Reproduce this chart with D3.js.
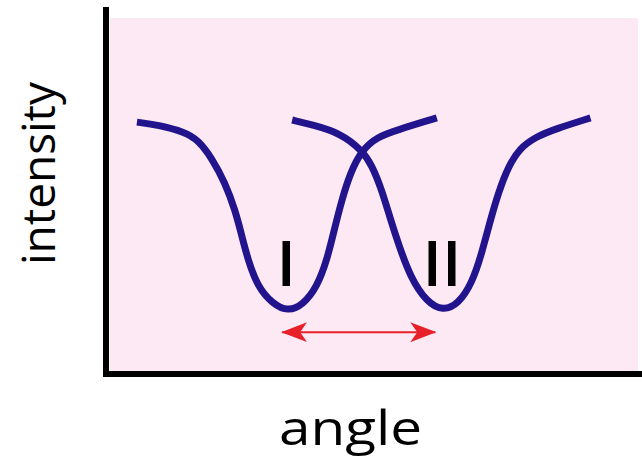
<!DOCTYPE html>
<html lang="en">
<head>
  <meta charset="UTF-8">
  <title>Two dips: intensity vs angle</title>
  <script src="https://d3js.org/d3.v7.min.js"></script>
  <style>
    body { margin: 0; background: #fff; }
    text { font-family: "Open Sans", "DejaVu Sans", sans-serif; }
  </style>
</head>
<body>
<div id="chart"></div>
<script>

// readings (angle in arbitrary units 0..100, intensity 0..1)
const angleI     = [5.1, 9.1, 14.2, 16.7, 19.3, 21.8, 23.7, 25.0, 26.1, 28.0, 30.7, 33.7, 36.6, 39.2, 41.1, 42.6, 43.9, 45.5, 47.7, 50.6, 54.4, 61.9];
const intensityI = [0.705, 0.697, 0.677, 0.654, 0.603, 0.533, 0.456, 0.381, 0.316, 0.238, 0.192, 0.168, 0.188, 0.238, 0.314, 0.408, 0.484, 0.561, 0.626, 0.663, 0.683, 0.717];

const angleII     = [34.5, 38.4, 43.6, 47.7, 49.6, 51.4, 53.1, 54.6, 56.9, 60.0, 63.1, 66.0, 68.6, 70.4, 72.0, 73.6, 75.5, 77.6, 80.6, 84.4, 91.0];
const intensityII = [0.711, 0.697, 0.674, 0.626, 0.583, 0.516, 0.431, 0.361, 0.265, 0.195, 0.170, 0.190, 0.250, 0.333, 0.425, 0.508, 0.581, 0.631, 0.663, 0.686, 0.717];

const dipLabels = ["I", "II"];
const dipLabelAngle = [33.4, 62.9];
const dipLabelIntensity = 0.24;

// red double arrow between the two minima
const arrowAngle = [32.6, 61.6];
const arrowIntensity = 0.11;

const width = 642;
const height = 456;

const svg = d3.select("#chart")
  .append("svg")
  .attr("width", width)
  .attr("height", height);

const x = d3.scaleLinear().domain([0, 100]).range([110, 638]);
const y = d3.scaleLinear().domain([0, 1]).range([371, 18]);

// pink plotting area
svg.append("rect")
  .attr("x", x(0))
  .attr("y", y(1))
  .attr("width", x(100) - x(0))
  .attr("height", y(0) - y(1))
  .attr("fill", "#fce9f3");

const defs = svg.append("defs");
defs.append("marker")
  .attr("id", "head")
  .attr("viewBox", "0 0 26 22")
  .attr("refX", 25)
  .attr("refY", 11)
  .attr("markerWidth", 26)
  .attr("markerHeight", 22)
  .attr("markerUnits", "userSpaceOnUse")
  .attr("orient", "auto-start-reverse")
  .append("path")
  .attr("d", "M0,1 L26,11 L0,21 L7,11 Z")
  .attr("fill", "#e8202a");

const line = d3.line()
  .x(d => x(d[0]))
  .y(d => y(d[1]))
  .curve(d3.curveBasis);

const curves = [
  d3.zip(angleI, intensityI),
  d3.zip(angleII, intensityII)
];

svg.selectAll(".dip")
  .data(curves)
  .enter().append("path")
  .attr("class", "dip")
  .attr("d", line)
  .attr("fill", "none")
  .attr("stroke", "#22148c")
  .attr("stroke-width", 7)
  .attr("stroke-linecap", "butt");

svg.selectAll(".dipLabel")
  .data(dipLabels)
  .enter().append("text")
  .attr("class", "dipLabel")
  .attr("x", (d, i) => x(dipLabelAngle[i]))
  .attr("y", y(dipLabelIntensity))
  .attr("text-anchor", "middle")
  .attr("font-size", 64)
  .attr("font-weight", 600)
  .attr("fill", "#000")
  .text(d => d);

svg.append("line")
  .attr("x1", x(arrowAngle[0]))
  .attr("x2", x(arrowAngle[1]))
  .attr("y1", y(arrowIntensity))
  .attr("y2", y(arrowIntensity))
  .attr("stroke", "#e8202a")
  .attr("stroke-width", 2)
  .attr("marker-start", "url(#head)")
  .attr("marker-end", "url(#head)");

// axes: plain thick lines, no ticks
svg.append("line")
  .attr("x1", 106).attr("x2", 106)
  .attr("y1", 7).attr("y2", y(0) + 6)
  .attr("stroke", "#000")
  .attr("stroke-width", 6);

svg.append("line")
  .attr("x1", 103).attr("x2", width)
  .attr("y1", y(0) + 3).attr("y2", y(0) + 3)
  .attr("stroke", "#000")
  .attr("stroke-width", 6);

svg.append("text")
  .attr("x", 350.5)
  .attr("y", 445)
  .attr("text-anchor", "middle")
  .attr("font-size", 48)
  .attr("textLength", 143)
  .attr("lengthAdjust", "spacingAndGlyphs")
  .attr("fill", "#000")
  .text("angle");

svg.append("text")
  .attr("transform", "translate(55,173.5) rotate(-90)")
  .attr("text-anchor", "middle")
  .attr("font-size", 45)
  .attr("textLength", 183)
  .attr("lengthAdjust", "spacingAndGlyphs")
  .attr("fill", "#000")
  .text("intensity");

</script>
</body>
</html>
